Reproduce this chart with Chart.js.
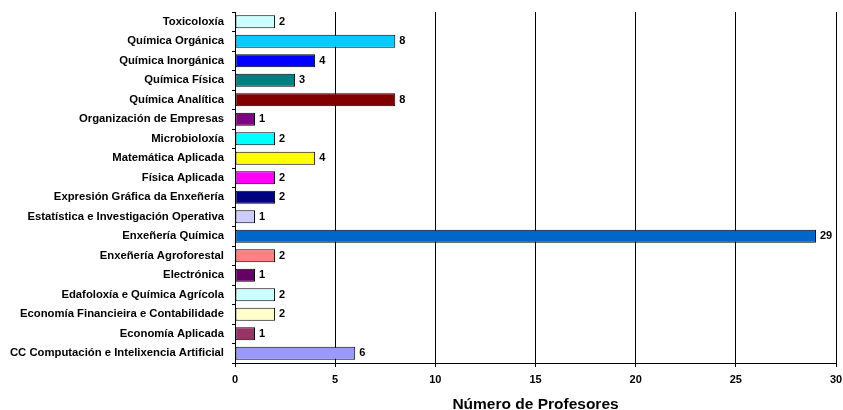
<!DOCTYPE html>
<html>
<head>
<meta charset="utf-8">
<style>html,body{margin:0;padding:0;background:#fff;}canvas{display:block;}</style>
<script src="https://cdn.jsdelivr.net/npm/chart.js@4/dist/chart.umd.min.js"></script>
</head>
<body>
<canvas id="c" width="843" height="410"></canvas>
<script>
const categories = [
  "Toxicoloxía",
  "Química Orgánica",
  "Química Inorgánica",
  "Química Física",
  "Química Analítica",
  "Organización de Empresas",
  "Microbioloxía",
  "Matemática Aplicada",
  "Física Aplicada",
  "Expresión Gráfica da Enxeñería",
  "Estatística e Investigación Operativa",
  "Enxeñería Química",
  "Enxeñería Agroforestal",
  "Electrónica",
  "Edafoloxía e Química Agrícola",
  "Economía Financieira e Contabilidade",
  "Economía Aplicada",
  "CC Computación e Intelixencia Artificial"
];
const profesores = [2, 8, 4, 3, 8, 1, 2, 4, 2, 2, 1, 29, 2, 1, 2, 2, 1, 6];
const barColors = [
  "#CCFFFF", "#00CCFF", "#0000FF", "#008080", "#800000", "#800080",
  "#00FFFF", "#FFFF00", "#FF00FF", "#000080", "#CCCCFF", "#0066CC",
  "#FF8080", "#660066", "#CCFFFF", "#FFFFCC", "#993366", "#9999FF"
];
const xTicks = [0, 5, 10, 15, 20, 25, 30];
const xTitle = "Número de Profesores";

const FONT = "'Liberation Sans', Arial, sans-serif";

const valueLabels = {
  id: 'valueLabels',
  afterDatasetsDraw(chart) {
    const ctx = chart.ctx;
    const meta = chart.getDatasetMeta(0);
    ctx.save();
    ctx.font = "bold 11px " + FONT;
    ctx.fillStyle = "#000";
    ctx.textAlign = "left";
    ctx.textBaseline = "middle";
    meta.data.forEach((bar, i) => {
      ctx.fillText(String(profesores[i]), bar.x + 4, bar.y);
    });
    ctx.restore();
  }
};

new Chart(document.getElementById('c'), {
  type: 'bar',
  data: {
    labels: categories,
    datasets: [{
      data: profesores,
      backgroundColor: barColors,
      borderColor: "#000",
      borderWidth: 1,
      borderSkipped: false,
      categoryPercentage: 1,
      barPercentage: 0.67
    }]
  },
  options: {
    indexAxis: 'y',
    responsive: false,
    animation: false,
    devicePixelRatio: 1,
    layout: { padding: { top: 12, right: 7, left: 0, bottom: 0 } },
    plugins: { legend: { display: false }, tooltip: { enabled: false } },
    scales: {
      x: {
        min: 0, max: 30,
        afterBuildTicks(scale) { scale.ticks = xTicks.map(v => ({ value: v })); },
        afterFit(scale) { scale.height = 47; scale.paddingLeft = 0; scale.paddingRight = 0; },
        grid: { color: "#000", lineWidth: 1, drawTicks: true, tickLength: 4, tickColor: "#000" },
        border: { color: "#000", width: 1 },
        ticks: { color: "#000", font: { family: FONT, size: 11, weight: 'bold' }, padding: 6, maxRotation: 0 },
        title: { display: true, text: xTitle, color: "#000", font: { family: FONT, size: 15.5, weight: 'bold' }, padding: { top: 0, bottom: -4 } }
      },
      y: {
        afterFit(scale) { scale.width = 235; scale.paddingTop = 0; scale.paddingBottom = 0; },
        grid: { drawOnChartArea: false, drawTicks: true, tickLength: 3, tickColor: "#000", offset: true },
        border: { color: "#000", width: 1 },
        ticks: { color: "#000", font: { family: FONT, size: 11.3, weight: 'bold' }, padding: 8, autoSkip: false }
      }
    }
  },
  plugins: [valueLabels]
});
</script>
</body>
</html>
